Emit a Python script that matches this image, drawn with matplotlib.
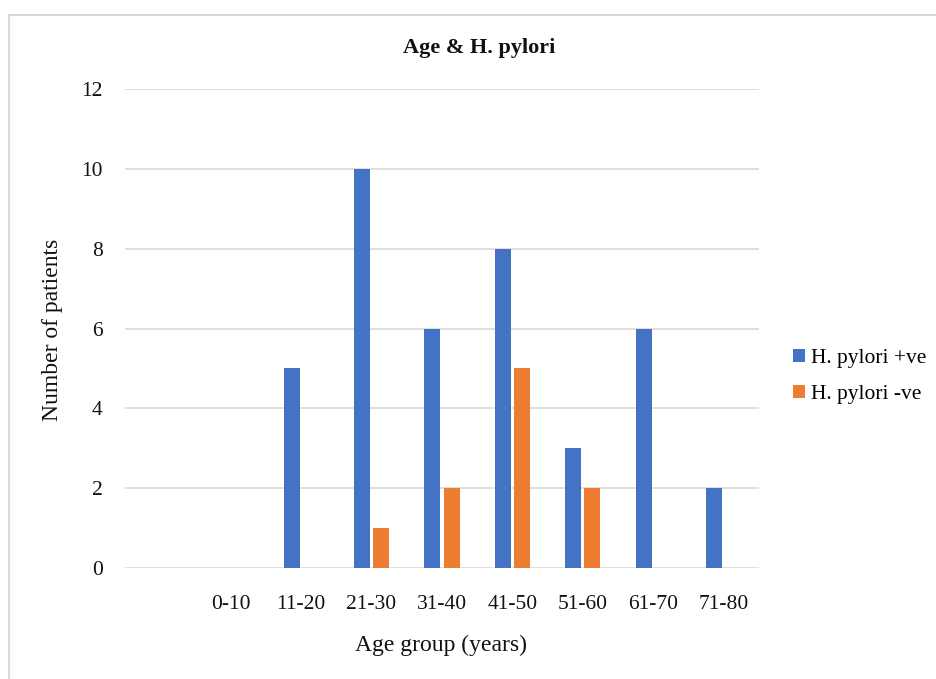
import matplotlib
matplotlib.use("Agg")
import matplotlib.pyplot as plt
from matplotlib.patches import Patch, Rectangle
import numpy as np

# chart data (first slot is an empty category in the source chart)
categories = ["", "0-10", "11-20", "21-30", "31-40", "41-50", "51-60", "61-70", "71-80"]
positive = [0, 0, 5, 10, 6, 8, 3, 6, 2]
negative = [0, 0, 0, 1, 2, 5, 2, 0, 0]
y_ticks = [0, 2, 4, 6, 8, 10, 12]

BLUE = "#4472C4"
ORANGE = "#ED7D31"
GRID = "#D9D9D9"

plt.rcParams.update({
    "font.family": ["Liberation Serif", "DejaVu Serif"],
    "font.size": 15,
})

W, H = 936, 679
fig = plt.figure(figsize=(W / 100, H / 100), dpi=100)
ax = fig.add_axes([125 / W, 1 - 567.7 / H, (759 - 125) / W, (567.7 - 89.3) / H])

x = np.arange(len(categories))
bw = 0.227
off = 0.135
ax.bar(x - off, positive, width=bw, color=BLUE, label="H. pylori +ve", zorder=3)
ax.bar(x + off, negative, width=bw, color=ORANGE, label="H. pylori -ve", zorder=3)

ax.set_xlim(-0.5, len(categories) - 0.5)
ax.set_ylim(0, 12)
ax.set_yticks(y_ticks)
ax.set_xticks(x)
ax.set_xticklabels(categories)
ax.yaxis.grid(True, color=GRID, linewidth=1.2, zorder=0)
ax.set_axisbelow(True)
for sp in ax.spines.values():
    sp.set_visible(False)
ax.tick_params(axis="both", length=0, labelsize=15.5, colors="#111111")
ax.tick_params(axis="y", pad=16)
ax.tick_params(axis="x", pad=20)

fig.text(53 / W, 1 - 330 / H, "Number of patients", rotation=90, ha="center", va="center",
         fontsize=17, color="#111111")
fig.text(441 / W, 1 - 645 / H, "Age group (years)", ha="center", va="center",
         fontsize=17, color="#111111")
fig.text(479 / W, 1 - 48 / H, "Age & H. pylori", ha="center", va="center",
         fontsize=16, fontweight="bold", color="#111111")

handles = [Patch(facecolor=BLUE, edgecolor="none"), Patch(facecolor=ORANGE, edgecolor="none")]
fig.legend(handles, ["H. pylori +ve", "H. pylori -ve"], loc="center left",
           bbox_to_anchor=(793 / W, 1 - 376.5 / H), frameon=False, fontsize=15.5,
           handlelength=0.55, handleheight=0.55, handletextpad=0.3, labelspacing=0.75,
           borderpad=0, borderaxespad=0)

# light chart-area border (cropped at right and bottom in the source)
fig.patches.append(Rectangle((9 / W, -0.1), 2.0, 1 - 15 / H + 0.1, transform=fig.transFigure,
                             fill=False, edgecolor=GRID, linewidth=1.5))

fig.savefig("out.png", dpi=100, facecolor="white")
